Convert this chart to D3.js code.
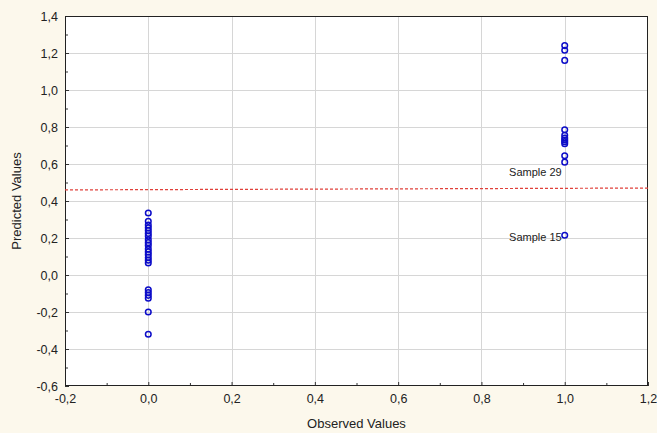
<!DOCTYPE html>
<html>
<head>
<meta charset="utf-8">
<script src="https://cdn.jsdelivr.net/npm/d3@7"></script>
<style>
  html, body { margin: 0; padding: 0; background: #fcf8ec; }
  svg { display: block; }
  text { font-family: "Liberation Sans", Arial, sans-serif; fill: #222; }
</style>
</head>
<body>
<svg id="chart" width="657" height="433"></svg>
<script>
// Data
const observedZero = [0, 0, 0, 0, 0, 0, 0, 0, 0, 0, 0, 0, 0, 0, 0, 0, 0, 0, 0, 0, 0, 0];
const predictedZero = [0.335, 0.29, 0.27, 0.255, 0.24, 0.225, 0.21, 0.19, 0.175, 0.16, 0.14, 0.125, 0.11, 0.095, 0.08, 0.065, -0.08, -0.095, -0.11, -0.125, -0.2, -0.32];
const observedOne = [1, 1, 1, 1, 1, 1, 1, 1, 1, 1, 1, 1];
const predictedOne = [1.24, 1.215, 1.16, 0.785, 0.755, 0.74, 0.73, 0.72, 0.71, 0.645, 0.61, 0.215];
const cutoffX = [-0.2, 1.2];
const cutoffY = [0.46, 0.47];
const labelNames = ["Sample 29", "Sample 15"];
const labelX = [1, 1];
const labelY = [0.555, 0.205];
const xTicks = [-0.2, 0, 0.2, 0.4, 0.6, 0.8, 1.0, 1.2];
const yTicks = [-0.6, -0.4, -0.2, 0, 0.2, 0.4, 0.6, 0.8, 1.0, 1.2, 1.4];
const xTitle = "Observed Values";
const yTitle = "Predicted Values";

const svg = d3.select("#chart");
const m = { left: 65, right: 9, top: 16, bottom: 47 };
const W = 657, H = 433;
const x = d3.scaleLinear().domain([-0.2, 1.2]).range([m.left, W - m.right]);
const y = d3.scaleLinear().domain([-0.6, 1.4]).range([H - m.bottom, m.top]);
const fmt = d => d3.format(".1f")(d).replace("\u2212", "-").replace(".", ",");

// plot background
svg.append("rect").attr("x", x(-0.2)).attr("y", y(1.4))
  .attr("width", x(1.2) - x(-0.2)).attr("height", y(-0.6) - y(1.4)).attr("fill", "#fff");

// grid
const g = svg.append("g");
g.selectAll(".gx").data(xTicks.slice(1, -1)).enter().append("line")
  .attr("x1", d => Math.round(x(d)) + 0.5).attr("x2", d => Math.round(x(d)) + 0.5)
  .attr("y1", y(1.4)).attr("y2", y(-0.6)).attr("stroke", "#d6d6d6").attr("stroke-width", 1);
g.selectAll(".gy").data(yTicks.slice(1, -1)).enter().append("line")
  .attr("y1", d => Math.round(y(d)) + 0.5).attr("y2", d => Math.round(y(d)) + 0.5)
  .attr("x1", x(-0.2)).attr("x2", x(1.2)).attr("stroke", "#d6d6d6").attr("stroke-width", 1);

// axes (ticks inward)
const xMinor = d3.range(-0.1, 1.2, 0.2);
const yMinor = d3.range(-0.5, 1.4, 0.2);
const xAxis = d3.axisBottom(x).tickValues(xTicks).tickFormat(fmt).tickSizeInner(-4).tickSizeOuter(0).tickPadding(8);
const yAxis = d3.axisLeft(y).tickValues(yTicks).tickFormat(fmt).tickSizeInner(-4).tickSizeOuter(0).tickPadding(7);
const gx = svg.append("g").attr("transform", `translate(0,${y(-0.6)})`).call(xAxis);
const gy = svg.append("g").attr("transform", `translate(${x(-0.2)},0)`).call(yAxis);
[gx, gy].forEach(a => {
  a.selectAll("text").style("font-size", "12.5px").attr("fill", "#222");
  a.selectAll("line").attr("stroke", "#333");
  a.select(".domain").remove();
});
svg.append("g").attr("transform", `translate(0,${y(-0.6)})`)
  .call(d3.axisBottom(x).tickValues(xMinor).tickFormat("").tickSizeInner(-3).tickSizeOuter(0))
  .call(a => { a.select(".domain").remove(); a.selectAll("line").attr("stroke", "#333"); });
svg.append("g").attr("transform", `translate(${x(-0.2)},0)`)
  .call(d3.axisLeft(y).tickValues(yMinor).tickFormat("").tickSizeInner(-3).tickSizeOuter(0))
  .call(a => { a.select(".domain").remove(); a.selectAll("line").attr("stroke", "#333"); });

// frame
svg.append("rect").attr("x", x(-0.2) + 0.5).attr("y", y(1.4) + 0.5)
  .attr("width", x(1.2) - x(-0.2) - 1).attr("height", y(-0.6) - y(1.4) - 1)
  .attr("fill", "none").attr("stroke", "#222").attr("stroke-width", 1);

// cutoff line
svg.append("line").attr("x1", x(cutoffX[0])).attr("y1", y(cutoffY[0]))
  .attr("x2", x(cutoffX[1])).attr("y2", y(cutoffY[1]))
  .attr("stroke", "#e0403a").attr("stroke-width", 1.2).attr("stroke-dasharray", "3,2");

// points
const pts = observedZero.map((d, i) => ({ x: d, y: predictedZero[i] }))
  .concat(observedOne.map((d, i) => ({ x: d, y: predictedOne[i] })));
svg.append("g").selectAll("circle").data(pts).enter().append("circle")
  .attr("cx", d => x(d.x)).attr("cy", d => y(d.y)).attr("r", 2.8)
  .attr("fill", "none").attr("stroke", "#0c0cc8").attr("stroke-width", 1.5);

// labels
svg.append("g").selectAll("text").data(labelNames).enter().append("text")
  .attr("x", (d, i) => x(labelX[i]) - 3).attr("y", (d, i) => y(labelY[i]) + 4)
  .attr("text-anchor", "end").style("font-size", "11px").text(d => d);

// titles
svg.append("text").attr("x", (x(-0.2) + x(1.2)) / 2).attr("y", 428)
  .attr("text-anchor", "middle").style("font-size", "13px").text(xTitle);
svg.append("text").attr("transform", `translate(21,${(y(-0.6) + y(1.4)) / 2}) rotate(-90)`)
  .attr("text-anchor", "middle").style("font-size", "13px").text(yTitle);
</script>
</body>
</html>
